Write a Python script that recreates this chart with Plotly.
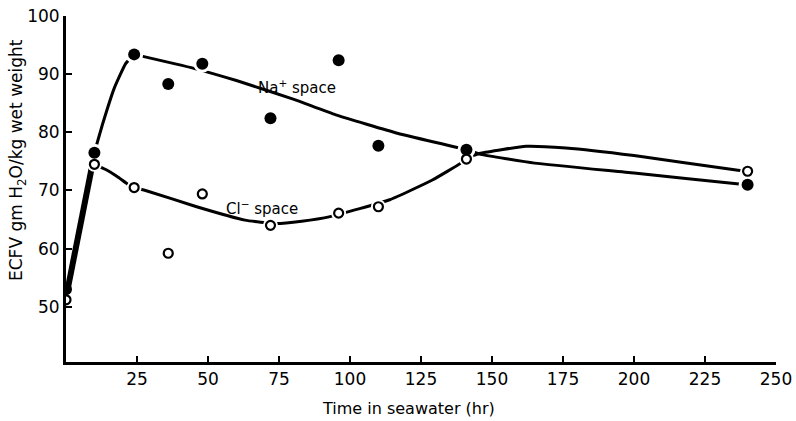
import plotly.graph_objects as go

# measured points
hours = [0, 10, 24, 36, 48, 72, 96, 110, 141, 240]
na_space = [53.0, 76.5, 93.4, 88.3, 91.8, 82.4, 92.4, 77.7, 77.0, 71.0]
cl_space = [51.2, 74.5, 70.5, 59.2, 69.4, 64.0, 66.1, 67.2, 75.4, 73.3]

# hand-fitted curves
start_x = [0.5, 9.5]
start_y = [52.8, 75.0]
na_rise_x = [10, 13, 17, 21, 24]
na_rise_y = [76.5, 81.6, 87.6, 91.8, 93.4]
na_curve_x = [24, 45, 60, 80, 95, 117, 141, 146, 165, 200, 237, 240]
na_curve_y = [93.4, 91.0, 88.9, 85.7, 83.0, 79.8, 77.0, 76.2, 74.7, 73.0, 71.1, 71.0]
cl_curve_x = [10, 14, 18, 22, 24, 28, 46, 63, 74, 83, 93, 114, 129, 139, 141, 146, 162, 176, 200, 236, 240]
cl_curve_y = [74.5, 73.6, 72.4, 71.0, 70.5, 70.0, 67.2, 64.9, 64.3, 64.7, 65.5, 68.4, 71.8, 74.7, 75.6, 76.4, 77.6, 77.3, 76.0, 73.5, 73.3]

x_ticks = [25, 50, 75, 100, 125, 150, 175, 200, 225, 250]
y_ticks = [50, 60, 70, 80, 90, 100]

FONT = "DejaVu Sans"
W, H = 796, 421
ML, MR, MT, MB = 66, 20, 16, 59
PW, PH = W - ML - MR, H - MT - MB

fig = go.Figure()

fig.add_trace(go.Scatter(x=start_x, y=start_y, mode="lines",
                         line=dict(color="black", width=6), hoverinfo="skip"))
for cx, cy in [(na_rise_x, na_rise_y), (na_curve_x, na_curve_y), (cl_curve_x, cl_curve_y)]:
    fig.add_trace(go.Scatter(x=cx, y=cy, mode="lines",
                             line=dict(color="black", width=3, shape="spline", smoothing=0.4),
                             hoverinfo="skip"))

# white halos to create gaps around markers
fig.add_trace(go.Scatter(x=hours[1:], y=na_space[1:], mode="markers",
                         marker=dict(color="white", size=18), hoverinfo="skip"))
fig.add_trace(go.Scatter(x=hours[1:], y=cl_space[1:], mode="markers",
                         marker=dict(color="white", size=15), hoverinfo="skip"))

fig.add_trace(go.Scatter(x=hours, y=na_space, mode="markers", name="Na+ space",
                         marker=dict(color="black", size=12, line=dict(width=0))))
fig.add_trace(go.Scatter(x=hours, y=cl_space, mode="markers", name="Cl- space",
                         marker=dict(color="white", size=9, line=dict(color="black", width=2.2))))

fig.update_layout(
    width=W, height=H,
    margin=dict(l=ML, r=MR, t=MT, b=MB, autoexpand=False),
    plot_bgcolor="white", paper_bgcolor="white",
    showlegend=False,
    font=dict(family=FONT, color="black", size=17),
    xaxis=dict(range=[0, 250], tickvals=x_ticks, ticktext=[str(v) for v in x_ticks],
               ticks="inside", ticklen=6, tickwidth=2, tickcolor="black", automargin=False,
               showline=True, linecolor="black", linewidth=3, showgrid=False, zeroline=False,
               tickfont=dict(size=17, family=FONT)),
    yaxis=dict(range=[40.5, 100], tickvals=y_ticks, ticktext=[str(v) for v in y_ticks],
               ticks="inside", ticklen=6, tickwidth=2, tickcolor="black", automargin=False,
               showline=True, linecolor="black", linewidth=3, showgrid=False, zeroline=False,
               tickfont=dict(size=17, family=FONT)),
    annotations=[
        dict(text="Na<sup>+</sup> space", x=81.5, y=87.8, xref="x", yref="y",
             showarrow=False, font=dict(size=15, family=FONT)),
        dict(text="Cl<sup>−</sup> space", x=69, y=67.0, xref="x", yref="y",
             showarrow=False, font=dict(size=15, family=FONT)),
        dict(text="Time in seawater (hr)", xref="paper", yref="paper",
             x=(408 - ML) / PW, y=(H - MB - 408) / PH, xanchor="center", yanchor="middle",
             showarrow=False, font=dict(size=16, family=FONT)),
        dict(text="ECFV gm H<sub>2</sub>O/kg wet weight", textangle=-90, xref="paper", yref="paper",
             x=(17 - ML) / PW, y=(H - MB - 160) / PH, xanchor="center", yanchor="middle",
             showarrow=False, font=dict(size=17, family=FONT)),
    ],
)

fig.write_html("out.html", config={"displayModeBar": False},
               post_script="document.body.style.margin='0';")
